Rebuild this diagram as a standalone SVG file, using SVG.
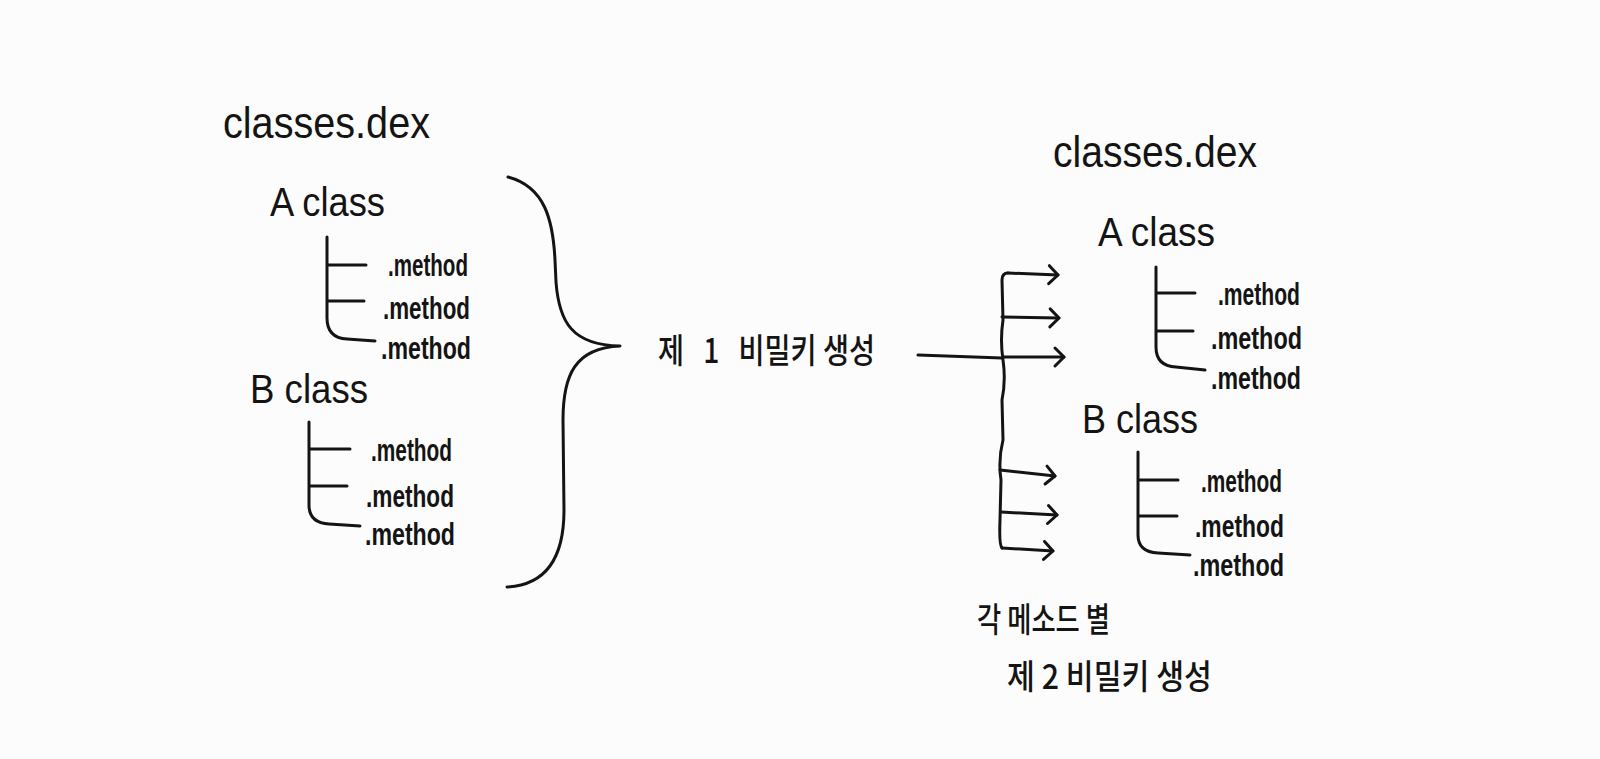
<svg xmlns="http://www.w3.org/2000/svg" width="1600" height="759" viewBox="0 0 1600 759">
<defs>
<style>
.ln{fill:none;stroke:#141414;stroke-width:3;stroke-linecap:round;stroke-linejoin:round}
.ttl{font-family:"Liberation Sans",Arial,sans-serif;font-size:44px;fill:#141414}
.cls{font-family:"Liberation Sans",Arial,sans-serif;font-size:40px;fill:#141414}
.mth{font-family:"Liberation Sans",Arial,sans-serif;font-size:32px;font-weight:bold;fill:#141414}
.ko{font-family:"Noto Sans CJK KR","Noto Sans",sans-serif;font-size:34px;font-weight:500;fill:#141414}
</style>
<marker id="ah" markerUnits="userSpaceOnUse" markerWidth="24" markerHeight="24" viewBox="-12 -12 24 24" refX="0" refY="0" orient="auto">
<path d="M-9,-9 L0,0 L-9,9" fill="none" stroke="#141414" stroke-width="3" stroke-linecap="round" stroke-linejoin="round"/>
</marker>
</defs>
<rect width="1600" height="759" fill="#fcfcfc"/>

<g id="left-dex">
<text class="ttl" x="223" y="138" textLength="207" lengthAdjust="spacingAndGlyphs">classes.dex</text>
</g>
<g id="left-a-class">
<text class="cls" x="270" y="216" textLength="115" lengthAdjust="spacingAndGlyphs">A class</text>
<path class="ln" d="M327,237 L327,318 Q327,338 347,339 L375,341 M327,265 L366,265 M327,301 L364,301"/>
<text class="mth" x="388" y="276" textLength="80" lengthAdjust="spacingAndGlyphs">.method</text>
<text class="mth" x="383" y="319" textLength="87" lengthAdjust="spacingAndGlyphs">.method</text>
<text class="mth" x="381" y="359" textLength="90" lengthAdjust="spacingAndGlyphs">.method</text>
</g>
<g id="left-b-class">
<text class="cls" x="250" y="403" textLength="118" lengthAdjust="spacingAndGlyphs">B class</text>
<path class="ln" d="M309,422 L309,505 Q309,523 329,524 L360,526 M309,449 L350,449 M309,486 L347,486"/>
<text class="mth" x="371" y="461" textLength="81" lengthAdjust="spacingAndGlyphs">.method</text>
<text class="mth" x="366" y="507" textLength="88" lengthAdjust="spacingAndGlyphs">.method</text>
<text class="mth" x="365" y="545" textLength="90" lengthAdjust="spacingAndGlyphs">.method</text>
</g>
<g id="brace">
<path class="ln" d="M508,177 C545,187 553,220 555,260 L556,282 C559,322 572,345 620,346 C575,348 563,375 563,420 L564,510 C564,560 545,585 507,587"/>
</g>
<g id="label-key1">
<text class="ko" x="658" y="363" textLength="217" lengthAdjust="spacingAndGlyphs" xml:space="preserve">제   1   비밀키 생성</text>
</g>

<g id="connectors">
<path class="ln" d="M918,355 L1002,358"/>
<path class="ln" d="M1008,273 Q1002,273 1002,280 L1003,320 Q1000,340 1003,360 Q1006,380 1002,400 L1003,440 Q998,460 1001,480 L1000,520 Q999,545 1002,548"/>
<path class="ln" marker-end="url(#ah)" d="M1008,273 L1058,275"/>
<path class="ln" marker-end="url(#ah)" d="M1002,317 L1059,318"/>
<path class="ln" marker-end="url(#ah)" d="M1003,357 L1064,357"/>
<path class="ln" marker-end="url(#ah)" d="M1000,470 L1055,476"/>
<path class="ln" marker-end="url(#ah)" d="M1001,512 L1057,515"/>
<path class="ln" marker-end="url(#ah)" d="M1002,548 L1053,551"/>
</g>

<g id="right-dex">
<text class="ttl" x="1053" y="167" textLength="204" lengthAdjust="spacingAndGlyphs">classes.dex</text>
</g>
<g id="right-a-class">
<text class="cls" x="1098" y="246" textLength="117" lengthAdjust="spacingAndGlyphs">A class</text>
<path class="ln" d="M1156,267 L1156,347 Q1156,366 1176,367 L1205,370 M1156,293 L1195,293 M1156,331 L1193,331"/>
<text class="mth" x="1218" y="305" textLength="82" lengthAdjust="spacingAndGlyphs">.method</text>
<text class="mth" x="1211" y="349" textLength="91" lengthAdjust="spacingAndGlyphs">.method</text>
<text class="mth" x="1211" y="389" textLength="90" lengthAdjust="spacingAndGlyphs">.method</text>
</g>
<g id="right-b-class">
<text class="cls" x="1082" y="433" textLength="116" lengthAdjust="spacingAndGlyphs">B class</text>
<path class="ln" d="M1138,452 L1138,535 Q1138,552 1158,553 L1190,555 M1138,480 L1178,480 M1138,516 L1177,516"/>
<text class="mth" x="1201" y="492" textLength="81" lengthAdjust="spacingAndGlyphs">.method</text>
<text class="mth" x="1195" y="537" textLength="89" lengthAdjust="spacingAndGlyphs">.method</text>
<text class="mth" x="1193" y="576" textLength="91" lengthAdjust="spacingAndGlyphs">.method</text>
</g>
<g id="label-key2">
<text class="ko" x="977" y="632" textLength="133" lengthAdjust="spacingAndGlyphs">각 메소드 별</text>
<text class="ko" x="1007" y="689" textLength="205" lengthAdjust="spacingAndGlyphs">제 2 비밀키 생성</text>
</g>
</svg>
